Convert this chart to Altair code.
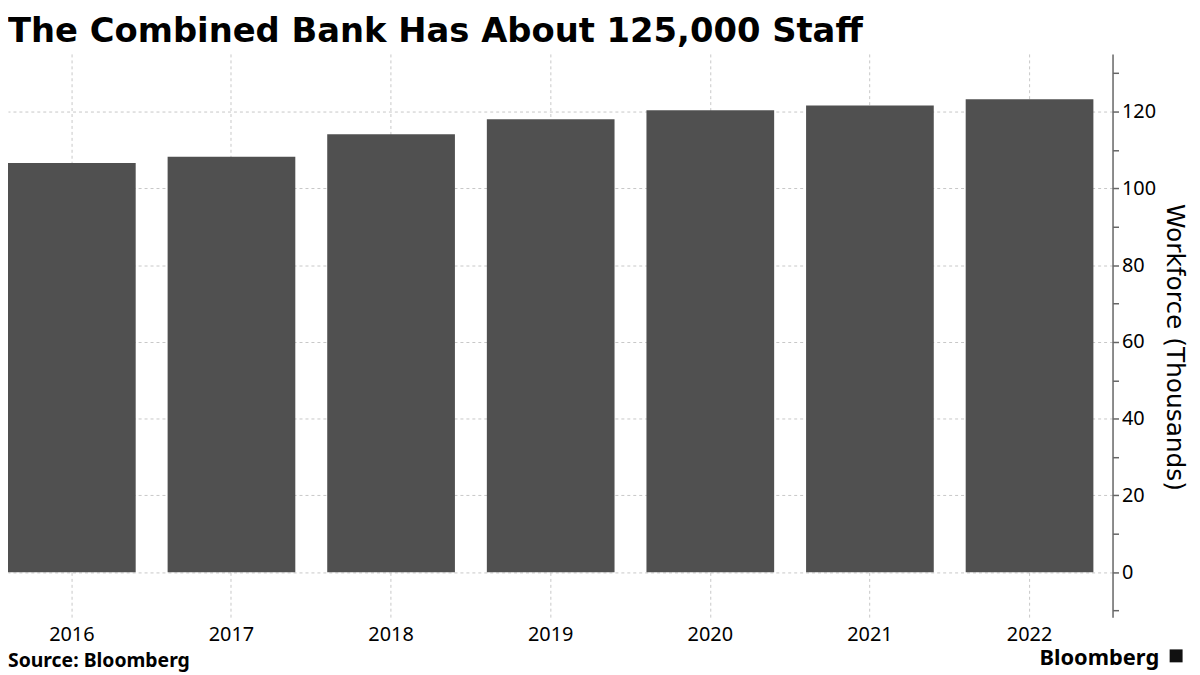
import altair as alt
import pandas as pd

years = ["2016", "2017", "2018", "2019", "2020", "2021", "2022"]
workforce = [106.6, 108.2, 114.1, 118.0, 120.3, 121.6, 123.2]
y_ticks = list(range(-10, 131, 10))

title_text = "The Combined Bank Has About 125,000 Staff"
source_text = "Source:  Bloomberg"
logo_text = "Bloomberg"

df = pd.DataFrame({"year": years, "workforce": workforce})

FONT = "Noto Sans"

bars = alt.Chart(df).mark_bar(color="#505050").encode(
    x=alt.X(
        "year:N",
        sort=years,
        scale=alt.Scale(paddingInner=0.2, paddingOuter=0.06, align=0),
        axis=alt.Axis(
            title=None,
            labelAngle=0,
            labelFontSize=20,
            labelFont=FONT,
            labelColor="#000000",
            labelPadding=8,
            domain=False,
            ticks=False,
            grid=True,
            gridColor="#c8c8c8",
            gridDash=[3, 3],
            gridWidth=1,
            bandPosition=0.5,
        ),
    ),
    y=alt.Y(
        "workforce:Q",
        scale=alt.Scale(domain=[-11.7, 135], nice=False, zero=False),
        axis=alt.Axis(
            orient="right",
            title="Workforce (Thousands)",
            titleFont="DejaVu Sans",
            titleFontSize=25,
            titleFontWeight="normal",
            titleColor="#000000",
            titleAngle=90,
            titleAlign="center",
            titleBaseline="middle",
            titleX=62,
            titleY=295,
            values=y_ticks,
            labelExpr="datum.value % 20 == 0 ? datum.label : ''",
            labelFontSize=20,
            labelFont=FONT,
            labelColor="#000000",
            labelPadding=3,
            domainColor="#666666",
            domainWidth=1.5,
            tickColor="#666666",
            tickSize=6,
            tickWidth=1.5,
            grid=True,
            gridColor="#c8c8c8",
            gridDash=[3, 3],
            gridOpacity={"condition": {"test": "datum.value % 20 != 0", "value": 0}, "value": 1},
        ),
    ),
)

title = alt.Chart(pd.DataFrame({"t": [title_text]})).mark_text(
    align="left", baseline="alphabetic", fontSize=34, fontWeight="bold", font="DejaVu Sans", color="#000000"
).encode(text="t:N", x=alt.value(0), y=alt.value(-12))

src = alt.Chart(pd.DataFrame({"t": [source_text]})).mark_text(
    align="left", baseline="alphabetic", fontSize=19.5, fontWeight="bold", font=FONT, color="#000000"
).encode(text="t:N", x=alt.value(0), y=alt.value(617))

logo = alt.Chart(pd.DataFrame({"t": [logo_text]})).mark_text(
    align="right", baseline="alphabetic", fontSize=22, fontWeight="bold", font=FONT, color="#000000"
).encode(text="t:N", x=alt.value(1159), y=alt.value(615))

icon = alt.Chart(pd.DataFrame({"t": ["i"]})).mark_square(
    size=170, color="#111111", opacity=1
).encode(x=alt.value(1176), y=alt.value(606))

chart = alt.layer(bars, title, src, logo, icon).properties(
    width=1112,
    height=567,
    autosize=alt.AutoSizeParams(type="none"),
    padding={"left": 0, "top": 44, "right": 80, "bottom": 54},
).configure_view(stroke=None)

chart.save("out.html", embed_options={"renderer": "svg", "actions": False})
